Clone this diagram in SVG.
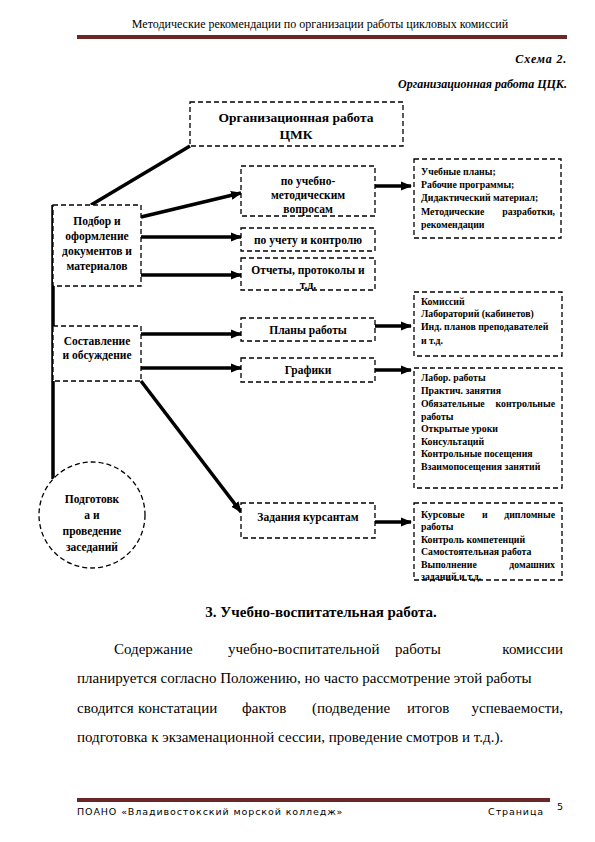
<svg xmlns="http://www.w3.org/2000/svg" width="595" height="842" viewBox="0 0 595 842" font-family="'Liberation Serif', 'DejaVu Serif', serif">
<style>
text{font-family:'Liberation Serif','DejaVu Serif',serif;fill:#000}
.b{font-weight:bold}
.box{fill:#fff;stroke:#000;stroke-width:1.3;stroke-dasharray:5,3}
.c{fill:none;stroke:#000;stroke-width:3.5}
.n{font-size:11.5px;font-weight:bold;text-anchor:middle}
.s{font-size:9.8px;font-weight:bold}
.e{text-anchor:end}
.body{font-size:15px}
.f{font-family:'DejaVu Sans',sans-serif;font-size:9.5px;letter-spacing:0.9px}
</style>
<defs>
<marker id="ah" markerUnits="userSpaceOnUse" markerWidth="11" markerHeight="11" refX="10" refY="5.5" orient="auto">
<path d="M0,1 L11,5.5 L0,10 Z" fill="#000"/>
</marker>
</defs>

<!-- page header -->
<text x="320" y="28" font-size="12" text-anchor="middle">Методические рекомендации по организации работы  цикловых комиссий</text>
<rect x="77" y="35" width="490" height="4" fill="#6b2626"/>
<text x="567" y="63" font-size="12" class="b e" font-style="italic" letter-spacing="0.8">Схема 2.</text>
<text x="567" y="88" font-size="12" class="b e" font-style="italic">Организационная работа ЦЦК.</text>

<!-- connectors -->
<g id="connectors">
<line class="c" x1="53" y1="205" x2="53" y2="479"/>
<line class="c" x1="190" y1="146" x2="91" y2="205"/>
<line class="c" x1="141" y1="217" x2="241" y2="193" marker-end="url(#ah)"/>
<line class="c" x1="141" y1="237" x2="241" y2="237" marker-end="url(#ah)"/>
<line class="c" x1="141" y1="275" x2="241" y2="275" marker-end="url(#ah)"/>
<line class="c" x1="141" y1="334" x2="241" y2="334" marker-end="url(#ah)"/>
<line class="c" x1="141" y1="368" x2="241" y2="368" marker-end="url(#ah)"/>
<line class="c" x1="141" y1="381" x2="241" y2="512" marker-end="url(#ah)"/>
<line class="c" x1="375" y1="186" x2="411" y2="186" marker-end="url(#ah)"/>
<line class="c" x1="375" y1="326" x2="411" y2="326" marker-end="url(#ah)"/>
<line class="c" x1="375" y1="370" x2="411" y2="370" marker-end="url(#ah)"/>
<line class="c" x1="375" y1="522" x2="411" y2="522" marker-end="url(#ah)"/>
</g>

<g id="root">
<rect class="box" x="190" y="102" width="213" height="44"/>
<text x="296" y="122" font-size="13.5" class="b" text-anchor="middle">Организационная работа</text>
<text x="296" y="139" font-size="13.5" class="b" text-anchor="middle">ЦМК</text>
</g>

<g id="podbor">
<rect class="box" x="53" y="205" width="88" height="81"/>
<text class="n" x="97" y="225">Подбор и</text>
<text class="n" x="97" y="240">оформление</text>
<text class="n" x="97" y="255">документов и</text>
<text class="n" x="97" y="270">материалов</text>
</g>

<g id="sostavlenie">
<rect class="box" x="53" y="326" width="88" height="55"/>
<text class="n" x="97" y="345">Составление</text>
<text class="n" x="97" y="359">и обсуждение</text>
</g>

<g id="podgotovka">
<circle class="box" cx="92" cy="515" r="53"/>
<text class="n" x="92" y="503">Подготовк</text>
<text class="n" x="92" y="519">а и</text>
<text class="n" x="92" y="535">проведение</text>
<text class="n" x="92" y="551">заседаний</text>
</g>

<g id="metod">
<rect class="box" x="241" y="166" width="134" height="50"/>
<text class="n" x="308" y="185">по учебно-</text>
<text class="n" x="308" y="199">методическим</text>
<text class="n" x="308" y="213">вопросам</text>
</g>

<g id="uchet">
<rect class="box" x="241" y="228" width="134" height="23"/>
<text class="n" x="308" y="244">по учету и контролю</text>
</g>

<g id="otchety">
<rect class="box" x="241" y="258" width="134" height="32"/>
<text class="n" x="308" y="274">Отчеты, протоколы и</text>
<text class="n" x="308" y="289">т.д.</text>
</g>

<g id="plany">
<rect class="box" x="241" y="318" width="134" height="23"/>
<text class="n" x="308" y="334">Планы работы</text>
</g>

<g id="grafiki">
<rect class="box" x="241" y="358" width="134" height="24"/>
<text class="n" x="308" y="374">Графики</text>
</g>

<g id="zadaniya">
<rect class="box" x="241" y="503" width="134" height="35"/>
<text class="n" x="308" y="521">Задания курсантам</text>
</g>

<g id="r1">
<rect class="box" x="414" y="159" width="147" height="79"/>
<text class="s" x="421" y="175">Учебные планы;</text>
<text class="s" x="421" y="188">Рабочие программы;</text>
<text class="s" x="421" y="201">Дидактический материал;</text>
<text class="s" x="421" y="215">Методические</text>
<text class="s e" x="555" y="215">разработки,</text>
<text class="s" x="421" y="228">рекомендации</text>
</g>

<g id="r2">
<rect class="box" x="414" y="292" width="148" height="64"/>
<text class="s" x="421" y="305">Комиссий</text>
<text class="s" x="421" y="317">Лабораторий (кабинетов)</text>
<text class="s" x="421" y="330">Инд. планов  преподавателей</text>
<text class="s" x="421" y="344">и т.д.</text>
</g>

<g id="r3">
<rect class="box" x="414" y="368" width="148" height="120"/>
<text class="s" x="421" y="381">Лабор. работы</text>
<text class="s" x="421" y="394">Практич. занятия</text>
<text class="s" x="421" y="407">Обязательные</text>
<text class="s e" x="555" y="407">контрольные</text>
<text class="s" x="421" y="420">работы</text>
<text class="s" x="421" y="432">Открытые уроки</text>
<text class="s" x="421" y="445">Консультаций</text>
<text class="s" x="421" y="457">Контрольные посещения</text>
<text class="s" x="421" y="470">Взаимопосещения занятий</text>
</g>

<g id="r4">
<rect class="box" x="414" y="503" width="148" height="77"/>
<text class="s" x="421" y="518">Курсовые</text>
<text class="s" x="482" y="518">и</text>
<text class="s e" x="555" y="518">дипломные</text>
<text class="s" x="421" y="530">работы</text>
<text class="s" x="421" y="543">Контроль компетенций</text>
<text class="s" x="421" y="555">Самостоятельная работа</text>
<text class="s" x="421" y="568">Выполнение</text>
<text class="s e" x="555" y="568">домашних</text>
<text class="s" x="421" y="580">заданий и т.д.</text>
</g>

<!-- body text -->
<text x="321" y="617" font-size="15" class="b" text-anchor="middle">3. Учебно-воспитательная работа.</text>
<text class="body" x="114" y="654">Содержание</text>
<text class="body" x="228" y="654">учебно-воспитательной</text>
<text class="body" x="395" y="654">работы</text>
<text class="body e" x="563" y="654">комиссии</text>
<text class="body" x="77" y="683">планируется согласно Положению, но часто рассмотрение этой работы</text>
<text class="body" x="77" y="713">сводится</text>
<text class="body" x="138" y="713">констатации</text>
<text class="body" x="242" y="713">фактов</text>
<text class="body" x="312" y="713">(подведение</text>
<text class="body" x="407" y="713">итогов</text>
<text class="body e" x="563" y="713">успеваемости,</text>
<text class="body" x="77" y="742">подготовка к экзаменационной сессии, проведение смотров и т.д.).</text>

<!-- footer -->
<rect x="77" y="798" width="473" height="4" fill="#6b2626"/>
<text class="f" x="77" y="815">ПОАНО «Владивостокский морской колледж»</text>
<text class="f e" x="544" y="815">Страница</text>
<text class="f" x="557" y="810" font-size="8.5">5</text>
</svg>
